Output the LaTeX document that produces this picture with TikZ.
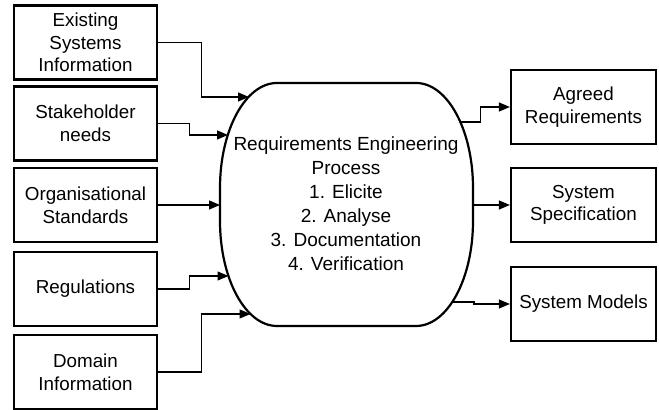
\documentclass[tikz,border=0pt]{standalone}
\usepackage{fontspec}
\setmainfont{Liberation Sans}
\usetikzlibrary{arrows.meta}

\begin{document}
\begin{tikzpicture}[x=0.5pt,y=-0.5pt,
    box/.style={draw,line width=1.1pt,minimum width=71.5pt,minimum height=37pt,
      inner sep=1pt,align=center,font=\fontsize{9.4}{11.3}\selectfont},
    link/.style={line width=0.6pt,-{Triangle[length=5.5pt,width=4.5pt]}}]
  \useasboundingbox (0,0) rectangle (659,410);
  \begin{scope}
    \node[box] (exist) at (85.5,42.5) {Existing\\Systems\\Information};
    \node[box] (stake) at (85.5,123.5) {Stakeholder\\needs};
    \node[box] (org) at (85.5,205) {Organisational\\Standards};
    \node[box] (regs) at (85.5,289) {Regulations};
    \node[box] (domain) at (85.5,372) {Domain\\Information};
  \end{scope}
  \begin{scope}
    \node[box,minimum width=72.5pt] (agreed) at (583.5,107) {Agreed\\Requirements};
    \node[box,minimum width=72.5pt] (spec) at (583.5,205) {System\\Specification};
    \node[box,minimum width=72.5pt] (models) at (583.5,304) {System Models};
  \end{scope}
  % process
  \node[align=center,font=\fontsize{9.5}{12}\selectfont] (proc) at (346,203.5)
    {Requirements Engineering\\Process\\1. Elicite\\2. Analyse\\3. Documentation\\4. Verification};
  \draw[line width=1.1pt] (277,83) -- (416,83)
    arc[start angle=90,end angle=0,x radius=28.5pt,y radius=52.5pt] -- (473,221)
    arc[start angle=0,end angle=-90,x radius=28.5pt,y radius=52.5pt] -- (277,326)
    arc[start angle=-90,end angle=-180,x radius=28.5pt,y radius=52.5pt] -- (220,188)
    arc[start angle=180,end angle=90,x radius=28.5pt,y radius=52.5pt] -- cycle;
  \coordinate (in1) at (249,97);
  \coordinate (in2) at (228,135);
  \coordinate (in3) at (220,205);
  \coordinate (in4) at (228.5,276);
  \coordinate (in5) at (250.5,314);
  \coordinate (out1) at (460.5,122);
  \coordinate (out2) at (473,205);
  \coordinate (out3) at (452,302);
  \draw[link] (exist.east) -- ++(43,0) |- (in1);
  \draw[link] (stake.east) -- ++(31,0) |- (in2);
  \draw[link] (org.east) -- (in3);
  \draw[link] (regs.east) -- ++(31,0) |- (in4);
  \draw[link] (domain.east) -- ++(43,0) |- (in5);
  \draw[link] (out1) -- ++(20,0) |- (agreed.west);
  \draw[link] (out2) -- (spec.west);
  \draw[link] (out3) -- ++(22,0) |- (models.west);
\end{tikzpicture}
\end{document}
